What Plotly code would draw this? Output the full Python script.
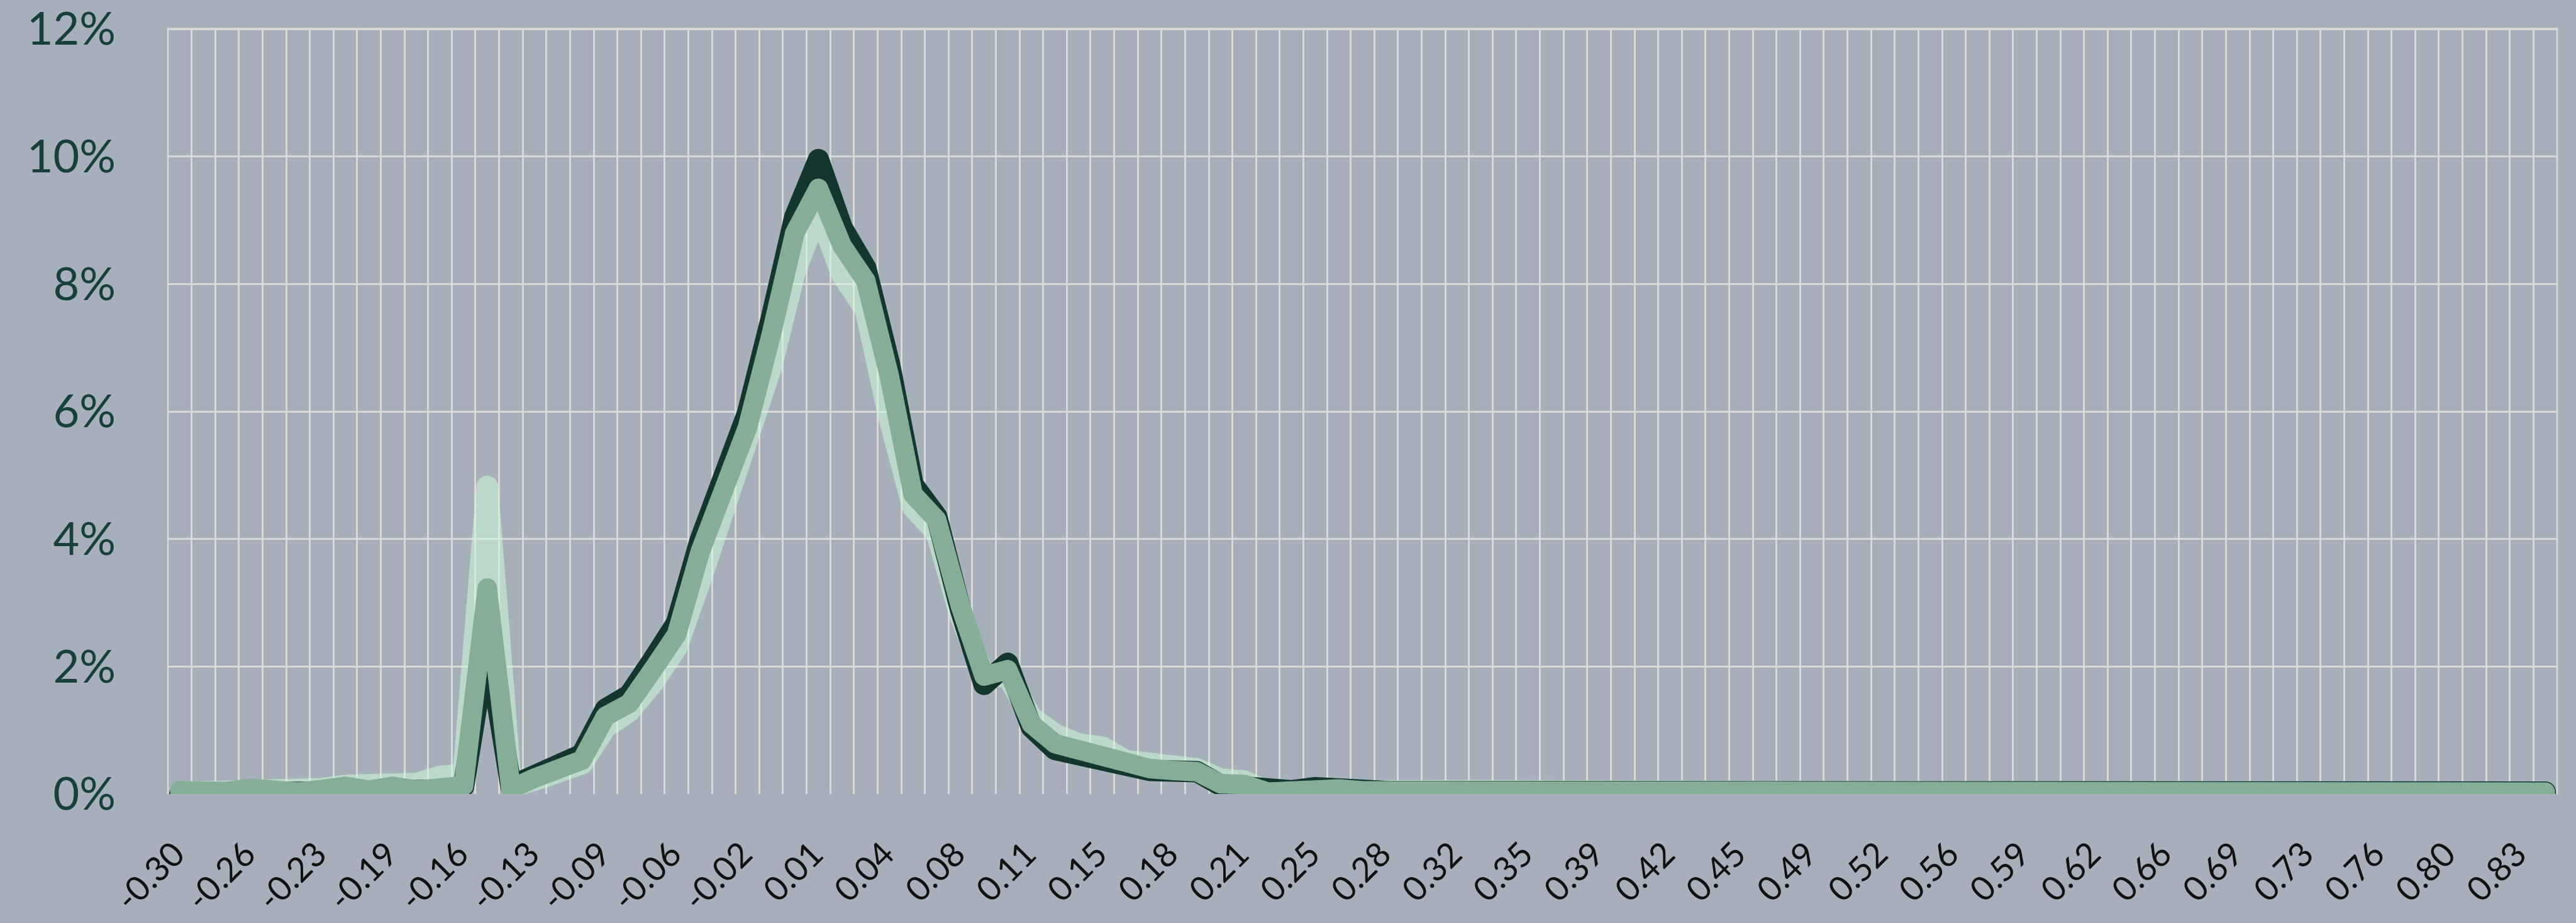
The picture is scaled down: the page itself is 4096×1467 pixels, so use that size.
import plotly.graph_objects as go

# ---- data (percent) ----
tick_labels = ["-0.30", "-0.26", "-0.23", "-0.19", "-0.16", "-0.13", "-0.09", "-0.06",
               "-0.02", "0.01", "0.04", "0.08", "0.11", "0.15", "0.18", "0.21", "0.25",
               "0.28", "0.32", "0.35", "0.39", "0.42", "0.45", "0.49", "0.52", "0.56",
               "0.59", "0.62", "0.66", "0.69", "0.73", "0.76", "0.80", "0.83"]

y_ticks = [0, 2, 4, 6, 8, 10, 12]

series_dark = [
    0.00, 0.00, 0.00, 0.00, 0.00, 0.00, 0.00, 0.00, 0.00, 0.01,
    0.02, 0.06, 0.12, 2.40, 0.12, 0.30, 0.46, 0.62, 1.33, 1.55,
    2.10, 2.68, 3.98, 4.97, 5.97, 7.45, 9.05, 9.95, 8.88, 8.25,
    6.75, 4.85, 4.35, 2.90, 1.72, 2.05, 1.05, 0.70, 0.60, 0.50,
    0.42, 0.37, 0.36, 0.35, 0.14, 0.12, 0.02, 0.05, 0.10, 0.06,
    0.04, 0.04, 0.04, 0.04, 0.04, 0.03, 0.03, 0.03, 0.04, 0.04,
    0.03, 0.03, 0.03, 0.03, 0.03, 0.03, 0.03, 0.05, 0.05, 0.04,
    0.03, 0.03, 0.03, 0.03, 0.03, 0.03, 0.05, 0.05, 0.04, 0.03,
    0.03, 0.03, 0.03, 0.03, 0.03, 0.03, 0.03, 0.03, 0.03, 0.03,
    0.03, 0.03, 0.03, 0.03, 0.03, 0.03, 0.03, 0.03, 0.03, 0.03,
    0.03]

series_medium = [
    0.05, 0.03, 0.04, 0.09, 0.05, 0.03, 0.07, 0.12, 0.06, 0.12,
    0.06, 0.11, 0.13, 3.23, 0.08, 0.25, 0.40, 0.53, 1.22, 1.42,
    1.95, 2.50, 3.80, 4.75, 5.75, 7.20, 8.80, 9.50, 8.60, 8.05,
    6.55, 4.70, 4.30, 2.95, 1.85, 1.95, 1.10, 0.79, 0.69, 0.57,
    0.49, 0.40, 0.37, 0.35, 0.16, 0.15, 0.03, 0.06, 0.11, 0.08,
    0.05, 0.05, 0.05, 0.05, 0.04, 0.03, 0.03, 0.03, 0.03, 0.03,
    0.03, 0.03, 0.03, 0.03, 0.03, 0.03, 0.05, 0.05, 0.03, 0.03,
    0.03, 0.03, 0.03, 0.03, 0.03, 0.03, 0.05, 0.05, 0.03, 0.03,
    0.03, 0.03, 0.03, 0.03, 0.03, 0.03, 0.03, 0.03, 0.03, 0.03,
    0.03, 0.03, 0.03, 0.03, 0.03, 0.03, 0.03, 0.03, 0.03, 0.03,
    0.03]

series_light = [
    0.02, 0.02, 0.02, 0.05, 0.06, 0.06, 0.08, 0.13, 0.15, 0.19,
    0.16, 0.27, 0.31, 4.82, 0.12, 0.22, 0.36, 0.48, 1.05, 1.30,
    1.75, 2.30, 3.35, 4.40, 5.40, 6.70, 8.20, 9.15, 8.15, 7.60,
    5.90, 4.50, 4.10, 2.80, 1.85, 1.85, 1.20, 0.93, 0.78, 0.73,
    0.52, 0.45, 0.42, 0.39, 0.23, 0.20, 0.03, 0.05, 0.10, 0.07,
    0.05, 0.05, 0.05, 0.07, 0.09, 0.06, 0.06, 0.06, 0.03, 0.03,
    0.03, 0.03, 0.03, 0.03, 0.03, 0.05, 0.05, 0.03, 0.03, 0.03,
    0.03, 0.03, 0.03, 0.03, 0.06, 0.06, 0.03, 0.03, 0.03, 0.03,
    0.02, 0.02, 0.02, 0.02, 0.02, 0.02, 0.02, 0.02, 0.02, 0.02,
    0.02, 0.02, 0.02, 0.02, 0.02, 0.02, 0.02, 0.02, 0.02, 0.02,
    0.02]

categories = list(range(len(series_medium)))
label_step = 3
tick_positions = categories[::label_step][:len(tick_labels)]

BG = "#a6afba"
GRID = "#d9d9d9"

fig = go.Figure()
fig.add_trace(go.Scatter(x=categories, y=series_light, mode="lines",
                         line=dict(color="rgba(206,250,215,0.55)", width=35),
                         hoverinfo="skip", showlegend=False))
fig.add_trace(go.Scatter(x=categories, y=series_dark, mode="lines",
                         line=dict(color="#13362f", width=34),
                         hoverinfo="skip", showlegend=False))
fig.add_trace(go.Scatter(x=categories, y=series_medium, mode="lines",
                         line=dict(color="#86ad96", width=31),
                         hoverinfo="skip", showlegend=False))

fig.update_layout(
    width=4096, height=1467,
    margin=dict(l=267, r=30, t=44, b=205),
    paper_bgcolor=BG, plot_bgcolor=BG,
    showlegend=False,
    xaxis=dict(
        range=[-0.5, len(categories) - 0.5],
        tickmode="array", tickvals=tick_positions, ticktext=tick_labels,
        tickangle=-45, showgrid=False, zeroline=False, showline=False,
        ticks="", ticklabelstandoff=52, ticklabelshift=-8,
        tickfont=dict(family="Lato", size=54, color="#111111"),
        minor=dict(tickmode="linear", tick0=-0.5, dtick=1, showgrid=True,
                   gridcolor=GRID, gridwidth=2.5, ticks=""),
        automargin=False,
    ),
    yaxis=dict(
        range=[0, 12.02], tickmode="array", tickvals=y_ticks,
        ticktext=["%d%%" % v for v in y_ticks],
        showgrid=True, gridcolor=GRID, gridwidth=3.4,
        zeroline=False, showline=False, ticks="",
        ticklabelstandoff=82, ticklabeloverflow="allow",
        tickfont=dict(family="Lato", size=72, color="#17403a"),
        automargin=False,
    ),
    shapes=[
        dict(type="line", xref="paper", yref="paper", x0=0, x1=0, y0=0, y1=1,
             line=dict(color=GRID, width=2.5), layer="below"),
        dict(type="line", xref="paper", yref="paper", x0=1, x1=1, y0=0, y1=1,
             line=dict(color=GRID, width=2.5), layer="below"),
        dict(type="line", xref="paper", yref="y", x0=0, x1=1, y0=12, y1=12,
             line=dict(color=GRID, width=3.4), layer="below"),
    ],
)

post = """
document.body.style.margin = '0';
document.body.style.background = '%s';
var gd = document.getElementById('{plot_id}');
function fixJoins(){
  gd.querySelectorAll('path.js-line').forEach(function(p){
    p.style.strokeLinejoin = 'round';
    p.style.strokeLinecap = 'round';
  });
}
fixJoins();
gd.on('plotly_afterplot', fixJoins);
""" % BG

fig.write_html("out.html", post_script=post, config={"displayModeBar": False})
